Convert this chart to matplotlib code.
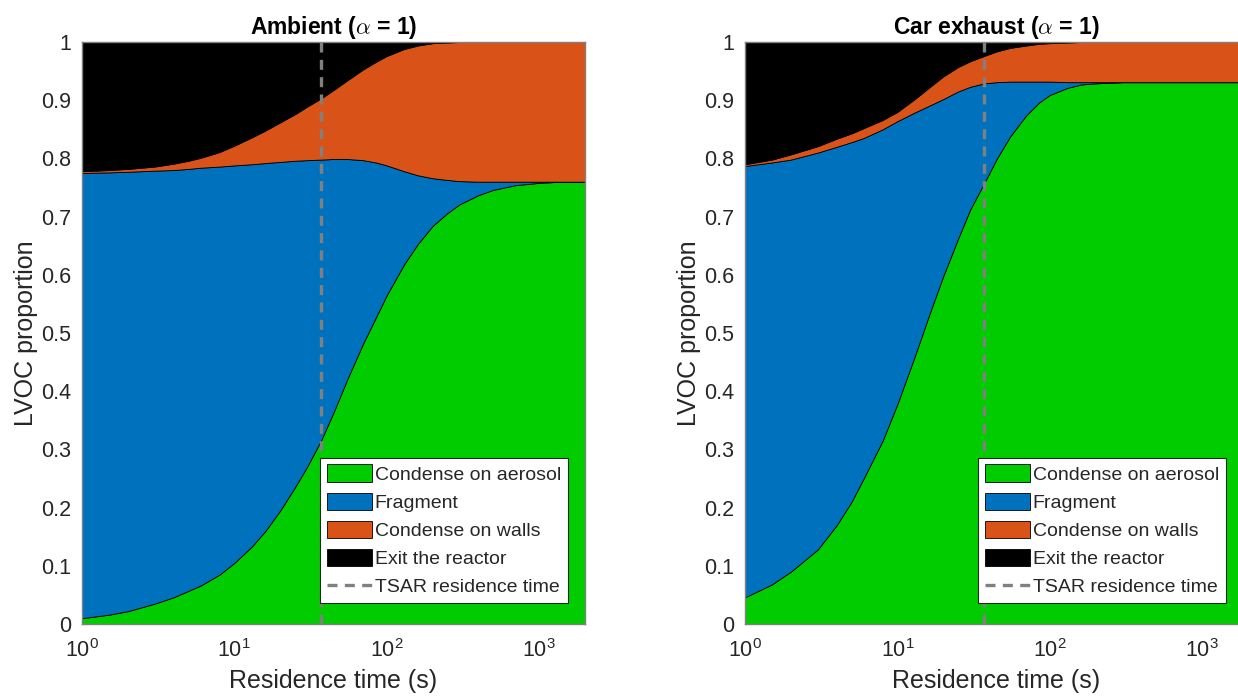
import matplotlib
matplotlib.use("Agg")
import matplotlib.pyplot as plt
from matplotlib.lines import Line2D

plt.rcParams["font.family"] = ["Liberation Sans", "DejaVu Sans"]
plt.rcParams["mathtext.fontset"] = "cm"
plt.rcParams["mathtext.default"] = "it"

# residence time grid (s)
t = [1, 1.5, 2, 3, 4, 5, 6, 8, 10, 13, 16, 20, 25, 30, 37, 45, 55, 70, 85,
     100, 130, 160, 200, 250, 300, 400, 500, 700, 1000, 1400, 2000]

# Ambient: cumulative upper edges of each stacked area
amb_aerosol = [0.010, 0.016, 0.022, 0.035, 0.046, 0.057, 0.066, 0.085, 0.105, 0.133, 0.160,
               0.195, 0.235, 0.270, 0.315, 0.365, 0.420, 0.482, 0.527, 0.565, 0.618, 0.653,
               0.684, 0.706, 0.721, 0.737, 0.746, 0.754, 0.758, 0.760, 0.760]
amb_fragment = [0.775, 0.776, 0.777, 0.779, 0.780, 0.782, 0.784, 0.786, 0.788, 0.790, 0.792,
                0.794, 0.796, 0.797, 0.798, 0.799, 0.799, 0.797, 0.793, 0.788, 0.778, 0.771,
                0.766, 0.763, 0.761, 0.760, 0.760, 0.760, 0.760, 0.760, 0.760]
amb_walls = [0.778, 0.780, 0.782, 0.786, 0.791, 0.796, 0.801, 0.811, 0.822, 0.836, 0.848,
             0.862, 0.876, 0.889, 0.903, 0.918, 0.934, 0.953, 0.966, 0.976, 0.988, 0.994,
             0.998, 0.999, 1.0, 1.0, 1.0, 1.0, 1.0, 1.0, 1.0]

# Car exhaust
car_aerosol = [0.046, 0.068, 0.090, 0.128, 0.170, 0.210, 0.250, 0.315, 0.378, 0.460, 0.528,
               0.598, 0.662, 0.712, 0.757, 0.800, 0.838, 0.874, 0.896, 0.909, 0.921, 0.927,
               0.929, 0.930, 0.931, 0.931, 0.931, 0.931, 0.931, 0.931, 0.931]
car_fragment = [0.787, 0.793, 0.798, 0.810, 0.820, 0.828, 0.835, 0.850, 0.864, 0.879, 0.890,
                0.902, 0.915, 0.923, 0.929, 0.931, 0.932, 0.932, 0.932, 0.932, 0.931, 0.931,
                0.931, 0.931, 0.931, 0.931, 0.931, 0.931, 0.931, 0.931, 0.931]
car_walls = [0.790, 0.798, 0.807, 0.821, 0.834, 0.843, 0.852, 0.866, 0.880, 0.902, 0.921,
             0.941, 0.957, 0.967, 0.976, 0.984, 0.990, 0.994, 0.997, 0.998, 0.999, 1.0,
             1.0, 1.0, 1.0, 1.0, 1.0, 1.0, 1.0, 1.0, 1.0]

tsar_time = 37
labels = ["Condense on aerosol", "Fragment", "Condense on walls", "Exit the reactor"]
colors = ["#00CC00", "#0072BD", "#D95319", "#000000"]
titles = [r"Ambient ($\alpha$ = 1)", r"Car exhaust ($\alpha$ = 1)"]
yticks = [0, 0.1, 0.2, 0.3, 0.4, 0.5, 0.6, 0.7, 0.8, 0.9, 1]
ytick_labels = ["0", "0.1", "0.2", "0.3", "0.4", "0.5", "0.6", "0.7", "0.8", "0.9", "1"]

fig = plt.figure(figsize=(12.38, 6.99), dpi=100)
ax1 = fig.add_axes([0.0662, 0.1073, 0.4063, 0.8326])
ax2 = fig.add_axes([0.6018, 0.1073, 0.4063, 0.8326])

panels = [(ax1, [amb_aerosol, amb_fragment, amb_walls], 0.966),
          (ax2, [car_aerosol, car_fragment, car_walls], 0.956)]

text_col = "#262626"
for i, (ax, edges, leg_x) in enumerate(panels):
    lower = [0] * len(t)
    handles = []
    for top, col, lab in zip(edges + [[1] * len(t)], colors, labels):
        h = ax.fill_between(t, lower, top, facecolor=col, edgecolor="black",
                            linewidth=0.6, label=lab)
        handles.append(h)
        lower = top
    ax.axvline(tsar_time, color="#808080", lw=2.4, ls=(0, (3, 2.2)))
    handles.append(Line2D([], [], color="#808080", lw=2.4, ls=(0, (3, 2.2)),
                          label="TSAR residence time"))

    ax.set_xscale("log")
    ax.set_xlim(1, 2000)
    ax.set_ylim(0, 1)
    ax.set_yticks(yticks)
    ax.set_yticklabels(ytick_labels)
    ax.minorticks_off()
    ax.set_axisbelow(True)
    ax.tick_params(axis="y", labelsize=15.5, colors=text_col, length=0, pad=8)
    ax.tick_params(axis="x", labelsize=15.5, colors=text_col, length=0, pad=11)
    for sp in ax.spines.values():
        sp.set_color("#808080")
        sp.set_linewidth(1.0)
    ax.set_xlabel("Residence time (s)", fontsize=18, color=text_col, labelpad=5)
    ax.set_ylabel("LVOC proportion", fontsize=18, color=text_col, labelpad=2)
    ax.set_title(titles[i], fontsize=16.5, fontweight="bold", color="black", pad=6)

    leg = ax.legend(handles=handles, loc="lower right", bbox_to_anchor=(leg_x, 0.036),
                    borderaxespad=0, fontsize=14, frameon=True, fancybox=False,
                    handlelength=2.3, handleheight=1.0, handletextpad=0.15,
                    labelspacing=0.45, borderpad=0.35, framealpha=1)
    leg.get_frame().set_edgecolor("#262626")
    leg.get_frame().set_linewidth(0.8)
    for txt in leg.get_texts():
        txt.set_color(text_col)

fig.savefig("out.png", dpi=100)
